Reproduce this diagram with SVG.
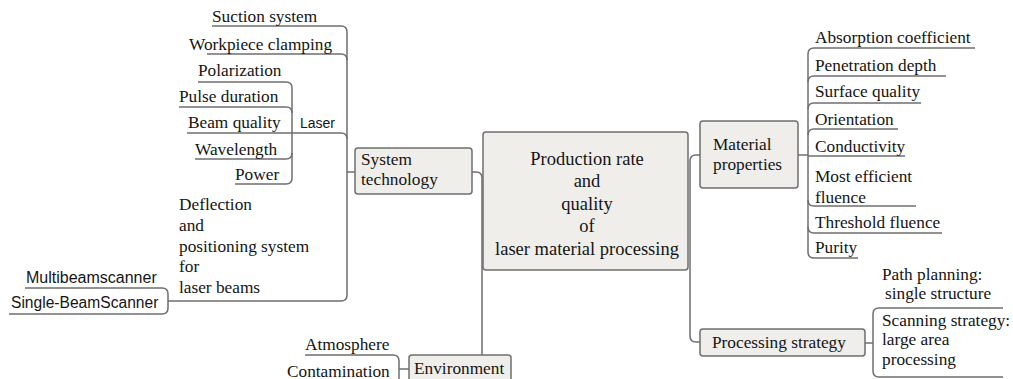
<svg xmlns="http://www.w3.org/2000/svg" width="1013" height="379" viewBox="0 0 1013 379">
<style>
.box{fill:#efeeea;stroke:#6f6f6f;stroke-width:1.5}
.ln{fill:none;stroke:#6f6f6f;stroke-width:1.5}
.t{font-family:"Liberation Serif","Times New Roman",serif;font-size:17.3px;fill:#151515}
.c{font-family:"Liberation Serif","Times New Roman",serif;font-size:18.5px;fill:#151515;text-anchor:middle}
.s{font-family:"Liberation Sans",Arial,sans-serif;fill:#151515}
</style>
<rect width="1013" height="379" fill="#ffffff"/>
<g id="connectors">
<!-- left system technology trunk -->
<path class="ln" d="M212,26 H341 Q347,26 347,32 V295 Q347,301 341,301 H168"/>
<path class="ln" d="M207,54 H341 Q347,54 347,60"/>
<path class="ln" d="M187,133 H341 Q347,133 347,139"/>
<path class="ln" d="M347,172 H355"/>
<!-- laser trunk -->
<path class="ln" d="M198,82 H286 Q292,82 292,88 V178 Q292,184 286,184 H235"/>
<path class="ln" d="M179,107 H286 Q292,107 292,113"/>
<path class="ln" d="M195,159 H286 Q292,159 292,153"/>
<!-- scanner trunk -->
<path class="ln" d="M25,288 H162 Q168,288 168,294 V308 Q168,314 162,314 H9"/>
<!-- centre left trunk -->
<path class="ln" d="M472,172 H476 Q482,172 482,178 V355"/>
<!-- environment trunk -->
<path class="ln" d="M305,355 H393 Q399,355 399,361 V385"/>
<path class="ln" d="M399,369 H409"/>
<!-- centre right trunk -->
<path class="ln" d="M700,155 H696 Q690,155 690,161 V336 Q690,342 696,342 H700"/>
<!-- material trunk -->
<path class="ln" d="M975,48 H814 Q808,48 808,54 V252 Q808,258 814,258 H858"/>
<path class="ln" d="M946,76 H814 Q808,76 808,82"/>
<path class="ln" d="M921,103 H814 Q808,103 808,109"/>
<path class="ln" d="M898,129 H814 Q808,129 808,135"/>
<path class="ln" d="M905,156 H808"/>
<path class="ln" d="M798,155 H808"/>
<path class="ln" d="M916,206 H814 Q808,206 808,200"/>
<path class="ln" d="M942,233 H814 Q808,233 808,227"/>
<!-- processing trunk -->
<path class="ln" d="M1003,308 H879 Q873,308 873,314 V371 Q873,377 879,377 H1003"/>
<path class="ln" d="M865,343 H873"/>
</g>
<g id="n-central">
<rect class="box" x="483" y="132" width="205" height="138" rx="3"/>
<text class="c" x="587" y="165">Production rate</text>
<text class="c" x="587" y="187">and</text>
<text class="c" x="587" y="210">quality</text>
<text class="c" x="587" y="232">of</text>
<text class="c" x="587" y="255">laser material processing</text>
</g>
<g id="n-system">
<rect class="box" x="355" y="148" width="117" height="46" rx="3"/>
<text class="t" x="361" y="165">System</text>
<text class="t" x="361" y="185">technology</text>
</g>
<g id="n-environment">
<rect class="box" x="409" y="355" width="102" height="32" rx="3"/>
<text class="t" x="414" y="374">Environment</text>
</g>
<g id="n-material">
<rect class="box" x="700" y="121" width="98" height="67" rx="3"/>
<text class="t" x="713" y="150">Material</text>
<text class="t" x="713" y="170">properties</text>
</g>
<g id="n-processing">
<rect class="box" x="700" y="329" width="165" height="27" rx="3"/>
<text class="t" x="712" y="348">Processing strategy</text>
</g>
<g id="n-suction"><text class="t" x="212" y="22">Suction system</text></g>
<g id="n-workpiece"><text class="t" x="189" y="50">Workpiece clamping</text></g>
<g id="n-laser"><text class="s" x="300" y="128" font-size="14">Laser</text></g>
<g id="n-polarization"><text class="t" x="198" y="76">Polarization</text></g>
<g id="n-pulse"><text class="t" x="179" y="102">Pulse duration</text></g>
<g id="n-beam"><text class="t" x="188" y="128">Beam quality</text></g>
<g id="n-wavelength"><text class="t" x="195" y="155">Wavelength</text></g>
<g id="n-power"><text class="t" x="235" y="180">Power</text></g>
<g id="n-deflection">
<text class="t" x="179" y="210">Deflection</text>
<text class="t" x="179" y="231">and</text>
<text class="t" x="179" y="252">positioning system</text>
<text class="t" x="179" y="272">for</text>
<text class="t" x="179" y="293">laser beams</text>
</g>
<g id="n-multi"><text class="s" x="26" y="283" font-size="16">Multibeamscanner</text></g>
<g id="n-single"><text class="s" x="11" y="308" font-size="15.6">Single-BeamScanner</text></g>
<g id="n-atmosphere"><text class="t" x="305" y="350">Atmosphere</text></g>
<g id="n-contamination"><text class="t" x="287" y="377">Contamination</text></g>
<g id="n-absorption"><text class="t" x="815" y="43">Absorption coefficient</text></g>
<g id="n-penetration"><text class="t" x="815" y="71">Penetration depth</text></g>
<g id="n-surface"><text class="t" x="815" y="97">Surface quality</text></g>
<g id="n-orientation"><text class="t" x="815" y="125">Orientation</text></g>
<g id="n-conductivity"><text class="t" x="815" y="152">Conductivity</text></g>
<g id="n-fluence">
<text class="t" x="815" y="182">Most efficient</text>
<text class="t" x="815" y="203">fluence</text>
</g>
<g id="n-threshold"><text class="t" x="815" y="228">Threshold fluence</text></g>
<g id="n-purity"><text class="t" x="815" y="253">Purity</text></g>
<g id="n-path">
<text class="t" x="882" y="280">Path planning:</text>
<text class="t" x="885" y="299">single structure</text>
</g>
<g id="n-scanning">
<text class="t" x="882" y="326">Scanning strategy:</text>
<text class="t" x="882" y="345">large area</text>
<text class="t" x="882" y="365">processing</text>
</g>
</svg>
